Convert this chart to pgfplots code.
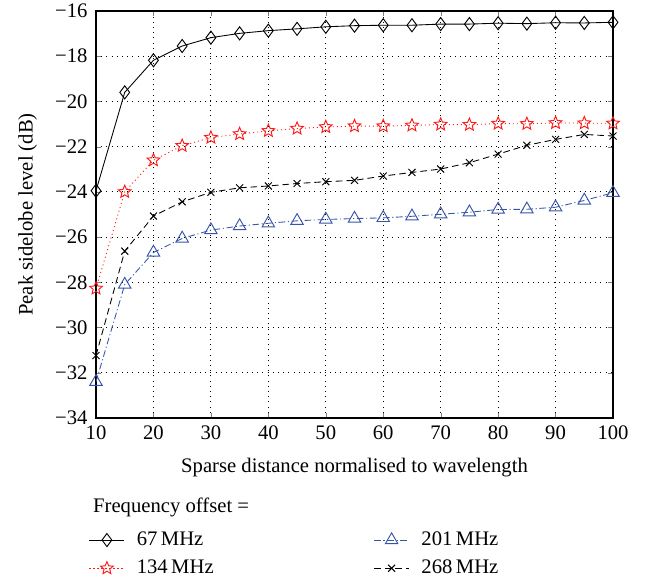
\documentclass[border=0pt]{standalone}
\usepackage{fontspec}
\setmainfont{Liberation Serif}
\usepackage{pgfplots}
\pgfplotsset{compat=1.18}
\definecolor{mblue}{rgb}{0.22,0.33,0.66}
\definecolor{mred}{rgb}{1,0.1,0.1}

% outlined five-pointed star
\pgfdeclareplotmark{ostar}{%
  \pgfpathmoveto{\pgfpointpolar{90}{\pgfplotmarksize}}%
  \pgfpathlineto{\pgfpointpolar{126}{0.45\pgfplotmarksize}}%
  \pgfpathlineto{\pgfpointpolar{162}{\pgfplotmarksize}}%
  \pgfpathlineto{\pgfpointpolar{198}{0.45\pgfplotmarksize}}%
  \pgfpathlineto{\pgfpointpolar{234}{\pgfplotmarksize}}%
  \pgfpathlineto{\pgfpointpolar{270}{0.45\pgfplotmarksize}}%
  \pgfpathlineto{\pgfpointpolar{306}{\pgfplotmarksize}}%
  \pgfpathlineto{\pgfpointpolar{342}{0.45\pgfplotmarksize}}%
  \pgfpathlineto{\pgfpointpolar{18}{\pgfplotmarksize}}%
  \pgfpathlineto{\pgfpointpolar{54}{0.45\pgfplotmarksize}}%
  \pgfpathclose
  \pgfusepathqstroke
}

\begin{document}
\fontsize{15.5}{18}\selectfont
\begin{tikzpicture}
\begin{axis}[
    width=387.75pt, height=305.25pt, scale only axis,
    xmin=10, xmax=100, ymin=-34, ymax=-16,
    xtick={10,20,...,100},
    ytick={-34,-32,...,-16},
    yticklabels={−34,−32,−30,−28,−26,−24,−22,−20,−18,−16},
    /pgf/number format/assume math mode=true,
    xlabel={Sparse distance normalised to wavelength},
    ylabel={Peak sidelobe level (dB)},
    xlabel style={at={(axis description cs:0.5,-0.123)}, anchor=center},
    ylabel style={at={(axis description cs:-0.132,0.5)}, anchor=center},
    xticklabel style={yshift=-0.5pt},
    yticklabel style={xshift=-1pt},
    tick align=inside,
    major tick length=3.5pt,
    axis line style={line width=0.9pt},
    grid=major,
    grid style={black, line width=0.7pt, dash pattern=on 0.7pt off 3.2pt},
    clip mode=individual,
    legend columns=2,
    legend cell align=left,
    legend style={draw=none, fill=none, at={(axis description cs:-0.014,-0.272)}, anchor=north west,
        /tikz/every odd column/.append style={column sep=7pt},
        /tikz/every even column/.append style={column sep=118pt},
        row sep=4.5pt, inner sep=0pt},
    legend image code/.code={\draw[mark repeat=2,mark phase=2] plot coordinates {(0cm,0cm) (0.46cm,0cm) (0.92cm,0cm)};},
    every axis plot/.append style={line width=0.65pt},
]
\addplot[black, solid, mark=diamond, mark size=4.9pt, mark options={solid, line width=0.7pt}] coordinates {
(10,-23.95)(15,-19.6)(20,-18.18)(25,-17.55)(30,-17.18)(35,-16.99)(40,-16.87)(45,-16.79)(50,-16.7)(55,-16.65)
(60,-16.63)(65,-16.63)(70,-16.58)(75,-16.58)(80,-16.54)(85,-16.56)(90,-16.52)(95,-16.53)(100,-16.5)};
\addlegendentry{67\,MHz}
\addplot[mblue, dash pattern=on 5pt off 2pt on 0.8pt off 2pt, mark=triangle, mark size=5.4pt, mark options={solid, line width=0.7pt}] coordinates {
(10,-32.4)(15,-28.1)(20,-26.68)(25,-26.06)(30,-25.69)(35,-25.51)(40,-25.39)(45,-25.28)(50,-25.22)(55,-25.18)
(60,-25.15)(65,-25.08)(70,-24.99)(75,-24.9)(80,-24.78)(85,-24.77)(90,-24.68)(95,-24.38)(100,-24.04)};
\addlegendentry{201\,MHz}
\addplot[mred, dash pattern=on 0.8pt off 2.2pt, mark=ostar, mark size=5pt, mark options={solid, line width=0.7pt}] coordinates {
(10,-28.27)(15,-24.0)(20,-22.6)(25,-21.96)(30,-21.6)(35,-21.44)(40,-21.3)(45,-21.2)(50,-21.13)(55,-21.09)
(60,-21.09)(65,-21.06)(70,-21.02)(75,-21.03)(80,-20.98)(85,-20.99)(90,-20.95)(95,-20.96)(100,-20.97)};
\addlegendentry{134\,MHz}
\addplot[black, dash pattern=on 5pt off 3pt, mark=x, mark size=3.7pt, mark options={solid, line width=0.7pt}] coordinates {
(10,-31.24)(15,-26.62)(20,-25.07)(25,-24.44)(30,-24.02)(35,-23.82)(40,-23.74)(45,-23.63)(50,-23.55)(55,-23.49)
(60,-23.3)(65,-23.14)(70,-22.99)(75,-22.71)(80,-22.33)(85,-21.94)(90,-21.68)(95,-21.46)(100,-21.53)};
\addlegendentry{268\,MHz}
\node[anchor=west, inner sep=0pt] at (axis description cs:-0.006,-0.219) {Frequency offset =};
\coordinate (bbll) at (axis description cs:-0.1857,-0.3907);
\coordinate (bbur) at (axis description cs:1.0638,1.027);
\end{axis}
\pgfresetboundingbox
\path[use as bounding box] (bbll) rectangle (bbur);
\end{tikzpicture}
\end{document}
